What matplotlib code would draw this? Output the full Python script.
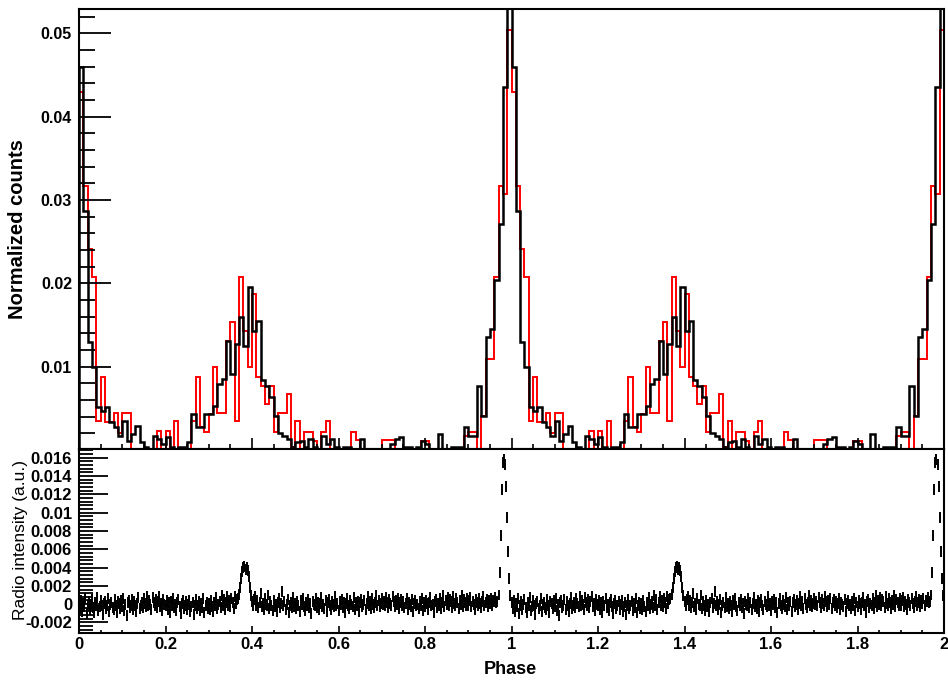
import numpy as np
import matplotlib
matplotlib.use("Agg")
import matplotlib.pyplot as plt
from matplotlib.ticker import MultipleLocator, FuncFormatter

# ---------------- data ----------------
bin_width = 0.01          # phase bin width of the histograms
n_cycles = 2              # profile shown twice (phase 0-2)

black_counts = [
    0.0460, 0.0287, 0.0130, 0.0099, 0.0052, 0.0047, 0.0052, 0.0033, 0.0027, 0.0017,
    0.0035, 0.0011, 0.0019, 0.0029, 0.0009, 0.0003, 0.0000, 0.0017, 0.0013, 0.0007,
    0.0015, 0.0003, 0.0000, 0.0003, 0.0003, 0.0009, 0.0043, 0.0027, 0.0027, 0.0043,
    0.0043, 0.0053, 0.0079, 0.0085, 0.0131, 0.0091, 0.0127, 0.0159, 0.0125, 0.0196,
    0.0143, 0.0155, 0.0084, 0.0077, 0.0064, 0.0041, 0.0020, 0.0017, 0.0013, 0.0003,
    0.0009, 0.0011, 0.0003, 0.0013, 0.0004, 0.0000, 0.0017, 0.0007, 0.0013, 0.0004,
    0.0000, 0.0003, 0.0003, 0.0000, 0.0000, 0.0013, 0.0000, 0.0000, 0.0000, 0.0000,
    0.0000, 0.0000, 0.0007, 0.0013, 0.0016, 0.0003, 0.0003, 0.0000, 0.0003, 0.0011,
    0.0007, 0.0000, 0.0000, 0.0019, 0.0000, 0.0000, 0.0003, 0.0003, 0.0003, 0.0027,
    0.0017, 0.0017, 0.0077, 0.0041, 0.0135, 0.0145, 0.0204, 0.0271, 0.0435, 0.0640,
]

red_counts = [
    0.0430, 0.0317, 0.0241, 0.0208, 0.0035, 0.0087, 0.0033, 0.0033, 0.0044, 0.0020,
    0.0044, 0.0044, 0.0000, 0.0000, 0.0000, 0.0000, 0.0000, 0.0000, 0.0023, 0.0000,
    0.0023, 0.0000, 0.0035, 0.0000, 0.0000, 0.0000, 0.0035, 0.0087, 0.0027, 0.0021,
    0.0043, 0.0099, 0.0044, 0.0044, 0.0131, 0.0153, 0.0035, 0.0208, 0.0143, 0.0099,
    0.0187, 0.0087, 0.0077, 0.0055, 0.0077, 0.0021, 0.0044, 0.0044, 0.0067, 0.0003,
    0.0035, 0.0000, 0.0021, 0.0021, 0.0011, 0.0000, 0.0021, 0.0035, 0.0000, 0.0000,
    0.0000, 0.0000, 0.0000, 0.0021, 0.0012, 0.0000, 0.0000, 0.0000, 0.0000, 0.0000,
    0.0012, 0.0012, 0.0012, 0.0000, 0.0000, 0.0000, 0.0000, 0.0000, 0.0000, 0.0011,
    0.0011, 0.0000, 0.0000, 0.0000, 0.0000, 0.0000, 0.0000, 0.0000, 0.0000, 0.0017,
    0.0021, 0.0021, 0.0000, 0.0041, 0.0109, 0.0109, 0.0208, 0.0317, 0.0307, 0.0504,
]

radio_step = 0.0025       # phase step of the radio profile
radio_unit = 1e-4         # radio values below are in units of 1e-4
radio_err = 6             # error bar half-length, same units
radio_values = [
    2, -5, 4, -8, 1, -3, 6, -10, -2, 3, -6, 0, 5, -4, -9, 2, -1, 7, -7, -3,
    4, -2, -11, 1, 3, -5, -1, 6, -8, 0, 2, -4, -6, 5, -2, -9, 3, 1, -5, 4,
    -3, 6, -7, 0, -12, 2, 4, -4, -1, 5, -6, 3, -2, -8, 1, 7, -5, -1, 2, -4,
    6, 1, -3, 8, -2, 4, 0, -6, 7, 2, -1, 5, -4, 3, 8, -3, 1, -7, 5, 0,
    -2, 4, -6, 2, -9, 3, -1, 6, -4, 0, -7, 2, 5, -3, -10, 1, 4, -5, -2, 3,
    -6, 0, 4, -8, -3, 2, -11, -1, 5, -5, -2, 3, -7, 1, -4, 6, -9, -2, 2, -5,
    1, -6, 4, -3, -8, 2, -1, 7, -5, 0, 3, -4, 9, -2, 5, -6, 2, 8, -1, 4,
    -3, 6, 2, -5, 8, 1, 5, 6, 11, 18, 28, 36, 40, 41, 38, 40, 37, 30, 18, 9,
    3, -2, 5, 8, -1, 4, -4, 2, 12, -3, 1, -6, 6, 0, -2, 10, -5, 3, -1, -7,
    4, -3, 0, -8, 2, 6, -4, 1, 14, -2, 3, -6, 0, 5, -9, -1, 2, -4, 7, -3,
    1, -5, 3, -2, -8, 4, 0, 6, -3, -7, 2, -1, 5, -4, 1, -10, 3, 0, -2, 6,
    -4, 2, -6, 1, 7, -3, 0, -5, 4, -8, 2, 5, -1, -6, 3, 0, -3, 8, -2, 1,
    -7, 3, 0, 5, -4, 2, -9, 1, 6, -2, -5, 4, 0, -3, 7, -6, 2, -1, 3, -8,
    2, 5, -3, 0, 4, -6, 1, 8, -2, 3, -5, 6, 0, -4, 2, 9, -1, 4, -3, 1,
    6, 0, 3, -2, 7, 2, -4, 5, 1, -1, 8, 3, -3, 4, 0, 6, -5, 2, 5, -2,
    3, -4, 1, 6, -6, 2, 0, -3, 5, -8, 1, 4, -2, 0, -5, 3, -1, 6, -7, 2,
    -3, 4, 1, -6, 2, 7, -2, 0, -9, 3, 5, -4, 1, -1, 6, -5, 2, 9, -3, 4,
    0, 7, -2, 5, 3, -4, 8, 1, -1, 6, 2, -5, 4, 0, 9, -3, 5, 2, -2, 6,
    -1, 4, 7, -3, 3, 0, -6, 5, 2, -2, 6, 1, -4, 3, 8, -1, 2, 5, -3, 4,
    1, 6, -2, 4, 3, 7, 2, 3, 10, 35, 75, 125, 155, 158, 152, 128, 95, 58, 28, 9,
]

x_label = "Phase"
y_label_top = "Normalized counts"
y_label_bottom = "Radio intensity (a.u.)"

# ---------------- style ----------------
plt.rcParams["font.family"] = ["Liberation Sans", "DejaVu Sans"]
plt.rcParams["font.weight"] = "bold"

W, H = 948, 683
fig = plt.figure(figsize=(W / 100, H / 100), dpi=100)
left, right = 79, 944
top_t, top_b = 9, 448.5
bot_t, bot_b = 448.5, 633
ax1 = fig.add_axes([left / W, 1 - top_b / H, (right - left) / W, (top_b - top_t) / H])
ax2 = fig.add_axes([left / W, 1 - bot_b / H, (right - left) / W, (bot_b - bot_t) / H])

# ---------------- histograms ----------------
n_bins = len(black_counts) * n_cycles
edges = np.arange(n_bins + 1) * bin_width
ax1.stairs(np.tile(red_counts, n_cycles), edges, color="red", lw=1.4)
ax1.stairs(np.tile(black_counts, n_cycles), edges, color="black", lw=1.8)

ax1.set_xlim(0, 2)
ax1.set_ylim(0.00018, 0.0529)
ax1.yaxis.set_major_locator(MultipleLocator(0.01))
ax1.yaxis.set_minor_locator(MultipleLocator(0.002))
ax1.xaxis.set_major_locator(MultipleLocator(0.2))
ax1.xaxis.set_minor_locator(MultipleLocator(0.05))
ax1.yaxis.set_major_formatter(FuncFormatter(lambda v, p: "" if abs(v) < 1e-9 else f"{round(v, 4):g}"))
ax1.tick_params(axis="x", which="both", direction="in", labelbottom=False, width=1.2)
ax1.tick_params(axis="x", which="major", length=8)
ax1.tick_params(axis="x", which="minor", length=3.8)
ax1.tick_params(axis="y", which="both", direction="in", width=1.3)
ax1.tick_params(axis="y", which="major", length=23, labelsize=11.5, pad=5)
ax1.tick_params(axis="y", which="minor", length=11.5)

# ---------------- radio profile ----------------
rv = np.array(radio_values) * radio_unit
rx = np.arange(len(rv)) * radio_step
x_all = np.concatenate([rx + c for c in range(n_cycles)])
y_all = np.tile(rv, n_cycles)
ax2.errorbar(x_all, y_all, yerr=radio_err * radio_unit, fmt="s", ms=1.8, mew=0,
             color="black", ecolor="black", elinewidth=1.4, capsize=0)

ax2.set_xlim(0, 2)
ax2.set_ylim(-0.00315, 0.0170)
ax2.yaxis.set_major_locator(MultipleLocator(0.002))
ax2.yaxis.set_minor_locator(MultipleLocator(0.0004))
ax2.xaxis.set_major_locator(MultipleLocator(0.2))
ax2.xaxis.set_minor_locator(MultipleLocator(0.05))
ax2.yaxis.set_major_formatter(FuncFormatter(lambda v, p: f"{round(v, 4):g}"))
ax2.xaxis.set_major_formatter(FuncFormatter(lambda v, p: f"{round(v, 2):g}"))
ax2.tick_params(axis="x", which="both", direction="in", width=1.2, labelsize=12, pad=3)
ax2.tick_params(axis="x", which="major", length=5)
ax2.tick_params(axis="x", which="minor", length=2.5)
ax2.tick_params(axis="y", which="both", direction="in", width=1.3)
ax2.tick_params(axis="y", which="major", length=21, labelsize=12, pad=5)
ax2.tick_params(axis="y", which="minor", length=10)

for ax in (ax1, ax2):
    for s in ax.spines.values():
        s.set_linewidth(1.5)

fig.text(18 / W, 1 - 228.7 / H, y_label_top, rotation=90, ha="center", va="center",
         fontsize=14.5, fontweight="bold")
fig.text(21 / W, 1 - 540 / H, y_label_bottom, rotation=90, ha="center", va="center",
         fontsize=12.5, fontweight="normal")
fig.text(510 / W, 1 - 670 / H, x_label, ha="center", va="center",
         fontsize=13, fontweight="bold")

fig.savefig("out.png", dpi=100)
